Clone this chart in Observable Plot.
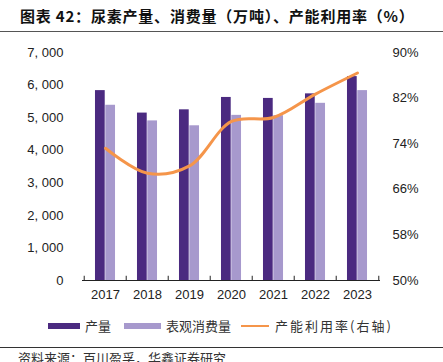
<!DOCTYPE html>
<html>
<head>
<meta charset="utf-8">
<script src="https://cdn.jsdelivr.net/npm/d3@7"></script>
<script src="https://cdn.jsdelivr.net/npm/@observablehq/plot@0.6"></script>
<style>
  html, body { margin: 0; padding: 0; background: #fff; }
  body { width: 443px; height: 362px; overflow: hidden; position: relative;
         font-family: "Noto Sans CJK SC", "Liberation Sans", sans-serif; color: #222; }
  #title { position: absolute; left: 20px; top: 5px; font-size: 15px; font-weight: 700; letter-spacing: 0.8px; white-space: nowrap; color: #111; }
  #tline { position: absolute; left: 0; top: 31px; width: 443px; height: 1px; background: #555; }
  #chart { position: absolute; left: 0; top: 36px; }
  #legend { position: absolute; left: 48px; top: 316px; font-size: 13px; display: flex; align-items: center; white-space: nowrap; color: #333; }
  #legend .sw { display: inline-block; height: 6px; margin-right: 5px; }
  #legend .ln { display: inline-block; height: 2px; margin-right: 6px; }
  #cline { position: absolute; left: 0; top: 347px; width: 443px; height: 1px; background: #333; }
  #caption { position: absolute; left: 18px; top: 348px; font-size: 13px; white-space: nowrap; color: #333; }
</style>
</head>
<body>
<div id="title">图表 42：尿素产量、消费量（万吨）、产能利用率（%）</div>
<div id="tline"></div>
<div id="chart"></div>
<div id="legend">
  <span class="sw" style="width:32px;background:#4b2a80"></span><span style="margin-right:13px">产量</span>
  <span class="sw" style="width:37px;background:#a799cd"></span><span style="margin-right:10px">表观消费量</span>
  <span class="ln" style="width:28px;background:#f5954a"></span><span style="letter-spacing:2px">产能利用率(右轴)</span>
</div>
<div id="cline"></div>
<div id="caption">资料来源：百川盈孚，华鑫证券研究</div>
<script>
const years = ["2017", "2018", "2019", "2020", "2021", "2022", "2023"];
const production = [5830, 5140, 5240, 5620, 5590, 5730, 6260];
const consumption = [5380, 4900, 4750, 5070, 5060, 5440, 5830];
const utilization = [73.2, 68.8, 70.1, 77.9, 78.6, 82.7, 86.4];
const leftTicks = [0, 1000, 2000, 3000, 4000, 5000, 6000, 7000];
const rightTicks = [50, 58, 66, 74, 82, 90];

const yMax = 7000, rMin = 50, rMax = 90;
const toY = r => (r - rMin) / (rMax - rMin) * yMax;
const fromY = y => y / yMax * (rMax - rMin) + rMin;

const data = years.map((year, i) => ({year, production: production[i], consumption: consumption[i], rate: utilization[i]}));

const W = 443, mL = 82, mR = 63;
const step = (W - mL - mR) / years.length;
const half = step / 2;
const gap = (step - 2 * 10.3) / 2;

const fmt = d => d3.format(",")(d).replace(",", ", ");

const plot = Plot.plot({
  width: W,
  height: 268,
  marginLeft: mL,
  marginRight: mR,
  marginTop: 16,
  marginBottom: 24,
  style: {fontFamily: "'Liberation Sans', Arial, sans-serif", fontSize: "13px", color: "#222", background: "transparent"},
  x: {domain: years, padding: 0},
  y: {domain: [0, yMax]},
  marks: [
    Plot.barY(data, {x: "year", y: "production", fill: "#4b2a80", insetLeft: gap, insetRight: half}),
    Plot.barY(data, {x: "year", y: "consumption", fill: "#a799cd", insetLeft: half, insetRight: gap}),
    Plot.ruleY([0], {stroke: "#222", strokeWidth: 1}),
    Plot.ruleX(years, {x: d => d, dx: -half, y1: 0, y2: 130, stroke: "#222"}),
    Plot.ruleX(years.slice(-1), {x: d => d, dx: half, y1: 0, y2: 130, stroke: "#222"}),
    Plot.line(data, {x: "year", y: d => toY(d.rate), curve: "catmull-rom", stroke: "#f5954a", strokeWidth: 3}),
    Plot.axisX({tickSize: 0, tickPadding: 9, label: null, fontSize: 13}),
    Plot.axisY(leftTicks, {anchor: "left", tickSize: 0, tickPadding: 19, tickFormat: fmt, label: null, fontSize: 13}),
    Plot.axisY(rightTicks.map(toY), {anchor: "right", tickSize: 0, tickPadding: 12, tickFormat: d => Math.round(fromY(d)) + "%", label: null, fontSize: 13, textAnchor: "start"})
  ]
});
document.getElementById("chart").appendChild(plot);
</script>
</body>
</html>
